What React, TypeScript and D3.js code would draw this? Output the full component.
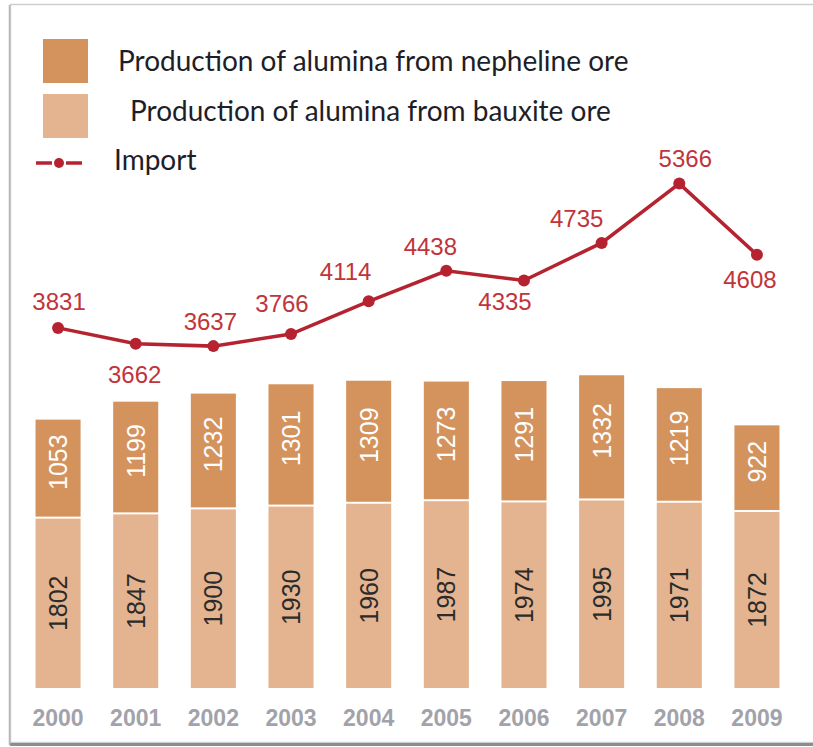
import React from "react";
import * as d3 from "d3";

const years = ["2000", "2001", "2002", "2003", "2004", "2005", "2006", "2007", "2008", "2009"];
const bauxite = [1802, 1847, 1900, 1930, 1960, 1987, 1974, 1995, 1971, 1872];
const nepheline = [1053, 1199, 1232, 1301, 1309, 1273, 1291, 1332, 1219, 922];
const imports = [3831, 3662, 3637, 3766, 4114, 4438, 4335, 4735, 5366, 4608];

const legendLabels = [
  "Production of alumina from nepheline ore",
  "Production of alumina from bauxite ore",
  "Import",
];

// label placement (style): offsets from the point
const importLabelDx = [1, -1, -3, -9, -23, -16, -19, -25, 6, -7];
const importLabelDy = [-18, 39, -16, -22, -21, -16, 29, -16, -17, 33];

const W = 813;
const H = 747;
const C_NEPH = "#D4925C";
const C_BAUX = "#E3B48F";
const C_LINE = "#B52330";
const C_LABEL = "#C0343A";

export default function App() {
  const x = d3.scaleBand<string>().domain(years).range([20, 795]).paddingInner(0.42).paddingOuter(0.2);
  const y = d3.scaleLinear().domain([0, 6000]).range([688, 124]);
  const bw = x.bandwidth();
  const cx = (yr: string) => (x(yr) as number) + bw / 2;

  const line = d3
    .line<number>()
    .x((_, i) => cx(years[i]))
    .y((d) => y(d));

  return (
    <div style={{ position: "absolute", left: 0, top: 0 }}>
      <svg width={W} height={H} style={{ display: "block" }}>
        <rect x={0} y={0} width={W} height={H} fill="#ffffff" />
        {/* frame */}
        <rect x={10.5} y={4.5} width={W + 20} height={738} fill="#ffffff" stroke="#cfcfcf" strokeWidth={1.5} />
        <line x1={10} x2={W} y1={744.5} y2={744.5} stroke="#8c8c8c" strokeWidth={3} />
        <line x1={9.5} x2={9.5} y1={5} y2={745} stroke="#b5b5b5" strokeWidth={1.5} />

        {/* legend */}
        <rect x={43} y={39} width={45} height={44} fill={C_NEPH} />
        <rect x={43} y={94} width={45} height={44} fill={C_BAUX} />
        <line x1={36} x2={52} y1={163} y2={163} stroke={C_LINE} strokeWidth={3.5} />
        <line x1={66} x2={82} y1={163} y2={163} stroke={C_LINE} strokeWidth={3.5} />
        <circle cx={59} cy={163} r={5} fill={C_LINE} />
        <g fontFamily="Lato, 'Open Sans', sans-serif" fontSize={28} fill="#1e1e28">
          <text x={118} y={71}>{legendLabels[0]}</text>
          <text x={130} y={121}>{legendLabels[1]}</text>
          <text x={114} y={170}>{legendLabels[2]}</text>
        </g>

        {/* bars */}
        {years.map((yr, i) => {
          const x0 = x(yr) as number;
          const yb = y(bauxite[i]);
          const yt = y(bauxite[i] + nepheline[i]);
          return (
            <g key={yr}>
              <rect x={x0} y={yb} width={bw} height={y(0) - yb} fill={C_BAUX} />
              <rect x={x0} y={yt} width={bw} height={yb - yt - 2} fill={C_NEPH} />
              <text
                transform={`translate(${cx(yr) + 9},${(yb + y(0)) / 2}) rotate(-90)`}
                textAnchor="middle"
                fontFamily="Arial, 'Liberation Sans', sans-serif"
                fontSize={25}
                fill="#2b2b2b"
              >
                {bauxite[i]}
              </text>
              <text
                transform={`translate(${cx(yr) + 9},${(yt + yb) / 2 - 7}) rotate(-90)`}
                textAnchor="middle"
                fontFamily="Arial, 'Liberation Sans', sans-serif"
                fontSize={25}
                fill="#ffffff"
              >
                {nepheline[i]}
              </text>
              <text
                x={cx(yr)}
                y={726}
                textAnchor="middle"
                fontFamily="Arial, 'Liberation Sans', sans-serif"
                fontWeight="bold"
                fontSize={23}
                fill="#a2a2aa"
              >
                {yr}
              </text>
            </g>
          );
        })}

        {/* import line */}
        <path d={line(imports) || ""} fill="none" stroke={C_LINE} strokeWidth={3.5} />
        {imports.map((v, i) => (
          <g key={years[i]}>
            <circle cx={cx(years[i])} cy={y(v)} r={6} fill={C_LINE} />
            <text
              x={cx(years[i]) + importLabelDx[i]}
              y={y(v) + importLabelDy[i]}
              textAnchor="middle"
              fontFamily="Arial, 'Liberation Sans', sans-serif"
              fontSize={24}
              fill={C_LABEL}
            >
              {v}
            </text>
          </g>
        ))}
      </svg>
    </div>
  );
}
